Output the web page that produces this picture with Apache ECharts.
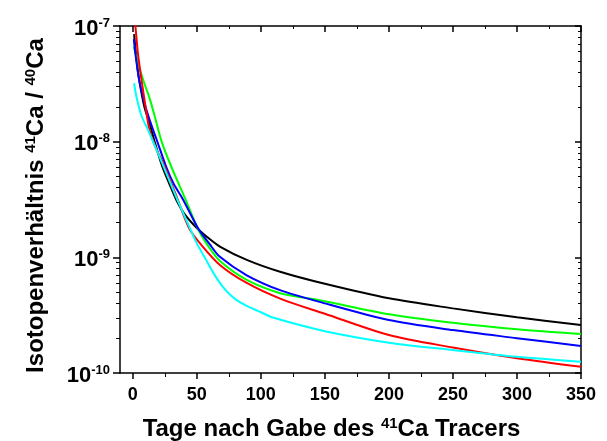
<!DOCTYPE html>
<html>
<head>
<meta charset="utf-8">
<script src="https://cdn.jsdelivr.net/npm/echarts@6/dist/echarts.min.js"></script>
<style>
  html, body { margin: 0; padding: 0; background: #fff; }
  #main { width: 607px; height: 441px; }
</style>
</head>
<body>
<div id="main"></div>
<script>
// tick positions
const xMajorTicks = [0, 50, 100, 150, 200, 250, 300, 350];
const xMinorTicks = [25, 75, 125, 175, 225, 275, 325];
const yMajorTicks = [1e-10, 1e-9, 1e-8, 1e-7];
const yMinorTicks = [
    2e-10, 3e-10, 4e-10, 5e-10, 6e-10, 7e-10, 8e-10, 9e-10,
    2e-9, 3e-9, 4e-9, 5e-9, 6e-9, 7e-9, 8e-9, 9e-9,
    2e-8, 3e-8, 4e-8, 5e-8, 6e-8, 7e-8, 8e-8, 9e-8
];

// curves: [day, 41Ca/40Ca]
const blackCurve = [[1, 8.5e-8], [3, 5.0e-8], [5, 3.4e-8], [9, 2.0e-8], [13, 1.45e-8], [16.5, 1.05e-8],
    [23, 6.1e-9], [29, 4.2e-9], [34, 3.13e-9], [40, 2.4e-9], [49, 1.84e-9], [58, 1.5e-9], [68, 1.24e-9],
    [89, 9.5e-10], [115, 7.5e-10], [150, 5.9e-10], [200, 4.42e-10], [250, 3.62e-10], [300, 3.03e-10], [350, 2.6e-10]];
const greenCurve = [[0.8, 6.6e-8], [4.5, 4.6e-8], [9, 3.2e-8], [13.5, 2.3e-8], [17.5, 1.6e-8], [22.5, 1.0e-8],
    [30, 6.1e-9], [41, 3.2e-9], [51, 1.75e-9], [60, 1.2e-9], [68.5, 9.2e-10], [89, 6.37e-10], [115, 4.9e-10],
    [145, 4.28e-10], [200, 3.22e-10], [250, 2.72e-10], [300, 2.39e-10], [350, 2.17e-10]];
const blueCurve = [[0.8, 7.7e-8], [2, 5.8e-8], [5, 3.4e-8], [9.4, 2.1e-8], [14, 1.45e-8], [18.5, 1.05e-8],
    [26, 6.1e-9], [32, 4.3e-9], [39, 3.2e-9], [51, 1.78e-9], [60, 1.3e-9], [68, 1.01e-9], [89, 7.0e-10],
    [115, 5.2e-10], [145, 4.14e-10], [200, 2.87e-10], [250, 2.35e-10], [300, 2.0e-10], [350, 1.71e-10]];
const redCurve = [[0.5, 1.3e-7], [2, 1.0e-7], [4, 5.8e-8], [7, 3.3e-8], [10, 2.0e-8], [13, 1.27e-8],
    [18, 8.8e-9], [24, 6.4e-9], [34, 3.4e-9], [44, 1.78e-9], [53, 1.3e-9], [68, 8.6e-10], [89, 6.0e-10],
    [115, 4.4e-10], [150, 3.25e-10], [200, 2.13e-10], [250, 1.66e-10], [300, 1.34e-10], [350, 1.13e-10]];
const cyanCurve = [[1, 3.2e-8], [3, 2.4e-8], [7, 1.65e-8], [12, 1.26e-8], [23, 6.5e-9], [34, 3.3e-9],
    [44, 1.85e-9], [50, 1.32e-9], [57, 9.6e-10], [63, 7.3e-10], [70, 5.6e-10], [76, 4.75e-10], [82, 4.2e-10],
    [89, 3.8e-10], [100, 3.35e-10], [110, 3.0e-10], [150, 2.3e-10], [200, 1.83e-10], [250, 1.58e-10],
    [300, 1.38e-10], [350, 1.25e-10]];

const FONT = 'Liberation Sans, Arial, sans-serif';
const chart = echarts.init(document.getElementById('main'));

const axisLine = { show: true, onZero: false, lineStyle: { color: '#000', width: 1.5 } };
const noLine = { show: false, onZero: false };

const xBase = (extra) => Object.assign({
    type: 'value', min: -10, max: 350, gridIndex: 0,
    splitLine: { show: false },
    axisLine: noLine,
    axisLabel: { show: false }
}, extra);

const yBase = (extra) => Object.assign({
    type: 'log', logBase: 10, min: 1e-10, max: 1e-7, gridIndex: 0,
    splitLine: { show: false },
    minorTick: { show: false },
    axisLine: noLine,
    axisLabel: { show: false }
}, extra);

const supRich = {
    b: { fontSize: 22, fontWeight: 'bold', fontFamily: FONT, color: '#000', lineHeight: 24 },
    s: { fontSize: 13, fontWeight: 'bold', fontFamily: FONT, color: '#000', lineHeight: 13, verticalAlign: 'top' }
};
const nameRich = {
    a: { fontSize: 24, fontWeight: 'bold', fontFamily: FONT, color: '#000', lineHeight: 27 },
    s: { fontSize: 15, fontWeight: 'bold', fontFamily: FONT, color: '#000', lineHeight: 15, verticalAlign: 'top' }
};

const line = (name, color, data) => ({
    name, type: 'line', data, showSymbol: false, smooth: 0.3,
    lineStyle: { color, width: 2 }, itemStyle: { color }, clip: true
});

chart.setOption({
    animation: false,
    backgroundColor: '#fff',
    grid: { left: 120, right: 26, top: 26, bottom: 68, containLabel: false, outerBoundsMode: 'none' },
    xAxis: [
        xBase({
            position: 'bottom',
            axisLine,
            axisTick: { show: true, customValues: xMajorTicks, length: 6, lineStyle: { color: '#000', width: 1.5 } },
            axisLabel: { show: true, customValues: xMajorTicks, margin: 13, fontSize: 18, fontWeight: 'bold', fontFamily: FONT, color: '#000' },
            name: '{a|Tage nach Gabe des }{s|41}{a|Ca Tracers}',
            nameLocation: 'middle', nameGap: 43,
            nameTextStyle: { rich: nameRich, padding: [0, 38, 0, 0] }
        }),
        xBase({
            position: 'bottom',
            axisTick: { show: true, customValues: xMinorTicks, length: 4, lineStyle: { color: '#000', width: 1 } }
        }),
        xBase({
            position: 'top',
            axisLine,
            axisTick: { show: true, inside: true, customValues: xMajorTicks, length: 6, lineStyle: { color: '#000', width: 1.5 } }
        }),
        xBase({
            position: 'top',
            axisTick: { show: true, inside: true, customValues: xMinorTicks, length: 3, lineStyle: { color: '#000', width: 1 } }
        })
    ],
    yAxis: [
        yBase({
            position: 'left',
            axisLine,
            axisTick: { show: true, customValues: yMajorTicks, length: 7, lineStyle: { color: '#000', width: 1.5 } },
            axisLabel: {
                show: true, customValues: yMajorTicks, margin: 10, padding: [5, 0, 0, 0],
                formatter: (v) => '{b|10}{s|' + Math.round(Math.log10(v)) + '}',
                rich: supRich
            },
            name: '{a|Isotopenverhältnis }{s|41}{a|Ca / }{s|40}{a|Ca}',
            nameLocation: 'middle', nameGap: 70, nameRotate: 90,
            nameTextStyle: { rich: nameRich, padding: [0, 12, 0, 0] }
        }),
        yBase({
            position: 'left',
            axisTick: { show: true, customValues: yMinorTicks, length: 4, lineStyle: { color: '#000', width: 1 } }
        }),
        yBase({
            position: 'right',
            axisLine,
            axisTick: { show: true, inside: true, customValues: yMajorTicks, length: 6, lineStyle: { color: '#000', width: 1.5 } }
        }),
        yBase({
            position: 'right',
            axisTick: { show: true, inside: true, customValues: yMinorTicks, length: 3, lineStyle: { color: '#000', width: 1 } }
        })
    ],
    series: [
        line('schwarz', '#000000', blackCurve),
        line('grün', '#00ff00', greenCurve),
        line('blau', '#0000ff', blueCurve),
        line('rot', '#ff0000', redCurve),
        line('cyan', '#00ffff', cyanCurve)
    ]
});
</script>
</body>
</html>
